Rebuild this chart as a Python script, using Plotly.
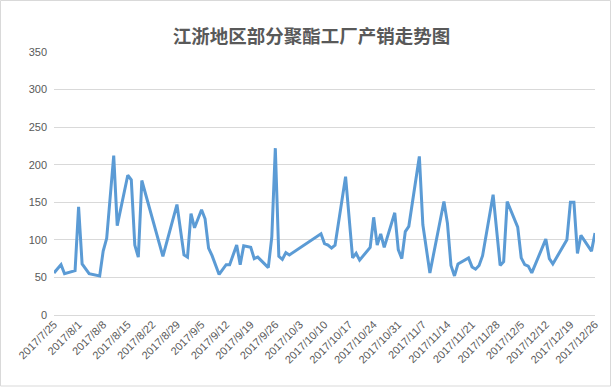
import plotly.graph_objects as go

# Data
dates = [
    "2017-07-25", "2017-07-27", "2017-07-28", "2017-07-31", "2017-08-01", "2017-08-02",
    "2017-08-04", "2017-08-07", "2017-08-08", "2017-08-09", "2017-08-11", "2017-08-12",
    "2017-08-15", "2017-08-16", "2017-08-17", "2017-08-18", "2017-08-19", "2017-08-22",
    "2017-08-25", "2017-08-29", "2017-08-31", "2017-09-01", "2017-09-02", "2017-09-03",
    "2017-09-05", "2017-09-06", "2017-09-07", "2017-09-08", "2017-09-10", "2017-09-12",
    "2017-09-13", "2017-09-15", "2017-09-16", "2017-09-17", "2017-09-19", "2017-09-20",
    "2017-09-21", "2017-09-24", "2017-09-25", "2017-09-26", "2017-09-27", "2017-09-28",
    "2017-09-29", "2017-09-30", "2017-10-09", "2017-10-10", "2017-10-11", "2017-10-12",
    "2017-10-13", "2017-10-16", "2017-10-18", "2017-10-19", "2017-10-20", "2017-10-23",
    "2017-10-24", "2017-10-25", "2017-10-26", "2017-10-27", "2017-10-30", "2017-10-31",
    "2017-11-01", "2017-11-02", "2017-11-03", "2017-11-06", "2017-11-07", "2017-11-09",
    "2017-11-13", "2017-11-14", "2017-11-15", "2017-11-16", "2017-11-17", "2017-11-20",
    "2017-11-21", "2017-11-22", "2017-11-23", "2017-11-24", "2017-11-27", "2017-11-29",
    "2017-11-30", "2017-12-01", "2017-12-04", "2017-12-05", "2017-12-06", "2017-12-07",
    "2017-12-08", "2017-12-12", "2017-12-13", "2017-12-14", "2017-12-18", "2017-12-19",
    "2017-12-20", "2017-12-21", "2017-12-22", "2017-12-25", "2017-12-26",
]
values = [
    56, 67, 55, 59, 144, 68,
    55, 52, 85, 102, 212, 119,
    186, 180, 93, 77, 179, 128,
    78, 147, 80, 77, 135, 116,
    140, 128, 89, 79, 54, 67,
    67, 93, 67, 92, 90, 75,
    77, 63, 104, 222, 78, 74,
    83, 80, 108, 95, 93, 89,
    93, 184, 76, 82, 73, 90,
    130, 93, 108, 90, 136, 87,
    75, 111, 118, 211, 120, 56,
    151, 122, 66, 52, 68, 76,
    64, 61, 66, 79, 160, 66,
    71, 151, 117, 76, 67, 65,
    56, 101, 75, 68, 100, 150,
    150, 82, 106, 85, 109,
]

tick_vals = [
    "2017-07-25", "2017-08-01", "2017-08-08", "2017-08-15", "2017-08-22", "2017-08-29",
    "2017-09-05", "2017-09-12", "2017-09-19", "2017-09-26", "2017-10-03", "2017-10-10",
    "2017-10-17", "2017-10-24", "2017-10-31", "2017-11-07", "2017-11-14", "2017-11-21",
    "2017-11-28", "2017-12-05", "2017-12-12", "2017-12-19", "2017-12-26",
]
tick_text = [
    "2017/7/25", "2017/8/1", "2017/8/8", "2017/8/15", "2017/8/22", "2017/8/29",
    "2017/9/5", "2017/9/12", "2017/9/19", "2017/9/26", "2017/10/3", "2017/10/10",
    "2017/10/17", "2017/10/24", "2017/10/31", "2017/11/7", "2017/11/14", "2017/11/21",
    "2017/11/28", "2017/12/5", "2017/12/12", "2017/12/19", "2017/12/26",
]
title_text = "江浙地区部分聚酯工厂产销走势图"

fig = go.Figure()
fig.add_trace(go.Scatter(
    x=dates, y=values, mode="lines",
    line=dict(color="#5B9BD5", width=3),
    showlegend=False, hoverinfo="skip",
))

fig.update_layout(
    width=611, height=387,
    margin=dict(l=54, r=16, t=52, b=72, autoexpand=False),
    paper_bgcolor="white", plot_bgcolor="white",
    title=dict(
        text="<b>" + title_text + "</b>",
        x=0.51, xanchor="center", y=1 - 37 / 387, yanchor="middle",
        font=dict(family="Noto Sans CJK SC", size=18.5, color="#595959"),
    ),
    font=dict(family="Liberation Sans, Arial", size=11, color="#595959"),
    xaxis=dict(
        type="date",
        range=["2017-07-25", "2017-12-26"],
        tickvals=tick_vals, ticktext=tick_text,
        tickangle=-45, automargin=False,
        showgrid=False, zeroline=False, showline=False,
        tickfont=dict(size=11, color="#595959"),
    ),
    yaxis=dict(
        range=[0, 350], dtick=50, tick0=0, automargin=False,
        showgrid=True, gridcolor="#D9D9D9", gridwidth=1,
        zeroline=True, zerolinecolor="#D9D9D9", zerolinewidth=1,
        showline=False,
        ticklabelstandoff=6,
        tickfont=dict(size=11, color="#595959"),
    ),
    shapes=[dict(
        type="rect", xref="paper", yref="paper",
        x0=-53.5 / 541, x1=1 + 15.5 / 541, y0=-71 / 263, y1=1 + 51.5 / 263,
        line=dict(color="#D9D9D9", width=1), fillcolor="rgba(0,0,0,0)",
        layer="below",
    )],
)

fig.write_html(
    "out.html",
    config={"displayModeBar": False, "staticPlot": True},
    post_script="document.body.style.margin='0';document.body.style.padding='0';",
)
